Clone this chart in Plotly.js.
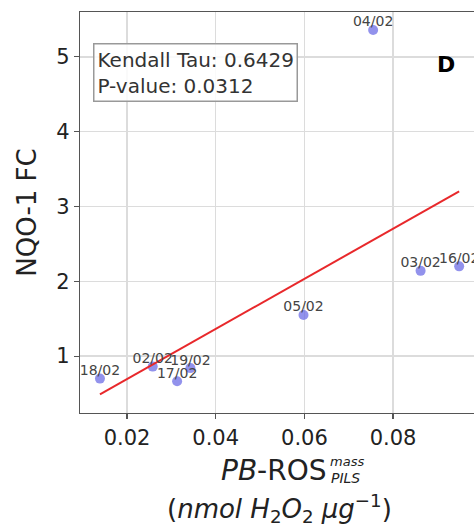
<!DOCTYPE html>
<html>
<head>
<meta charset="utf-8">
<script src="https://cdn.plot.ly/plotly-3.0.1.min.js"></script>
<style>html,body{margin:0;padding:0;overflow:hidden;background:#fff}</style>
</head>
<body>
<div id="chart"></div>
<script>
// Data
const dates = ["18/02", "02/02", "17/02", "19/02", "05/02", "04/02", "03/02", "16/02"];
const pbRos = [0.0139, 0.0258, 0.0313, 0.0343, 0.0598, 0.0755, 0.0862, 0.0949];
const nqo1FC = [0.70, 0.86, 0.665, 0.84, 1.55, 5.36, 2.14, 2.20];
const statsText = ["Kendall Tau: 0.6429", "P-value: 0.0312"];
const panelLabel = "D";

// Least-squares fit line from the data
const n = pbRos.length;
const mx = pbRos.reduce((a, b) => a + b, 0) / n;
const my = nqo1FC.reduce((a, b) => a + b, 0) / n;
let sxy = 0, sxx = 0;
for (let i = 0; i < n; i++) { sxy += (pbRos[i] - mx) * (nqo1FC[i] - my); sxx += (pbRos[i] - mx) ** 2; }
const slope = sxy / sxx, intercept = my - slope * mx;
const xmin = Math.min(...pbRos), xmax = Math.max(...pbRos);
const fitX = [xmin, xmax];
const fitY = fitX.map(x => intercept + slope * x);

const font = "DejaVu Sans, sans-serif";

const traces = [
  {
    x: pbRos, y: nqo1FC, mode: "markers", type: "scatter",
    marker: {color: "rgba(110,110,230,0.75)", size: 10},
    hoverinfo: "skip"
  },
  {
    x: fitX, y: fitY, mode: "lines", type: "scatter",
    line: {color: "#e8282b", width: 2}
  },
  {
    x: pbRos, y: nqo1FC, mode: "text", type: "scatter",
    text: dates, textposition: "top center",
    textfont: {family: font, size: 14, color: "#444"},
    cliponaxis: false
  }
];

const axisCommon = {
  showgrid: true, gridcolor: "#dcdcdc", gridwidth: 1.3,
  showline: true, linecolor: "#555", linewidth: 1.3, mirror: true,
  ticks: "outside", ticklen: 5, tickcolor: "#555", tickwidth: 1.2,
  zeroline: false,
  tickfont: {family: font, size: 21, color: "#222"}
};

const layout = {
  width: 485, height: 530,
  margin: {l: 80, r: 5, t: 12, b: 117},
  paper_bgcolor: "#fff", plot_bgcolor: "#fff",
  showlegend: false,
  font: {family: font},
  xaxis: Object.assign({}, axisCommon, {
    range: [0.0094, 0.0996],
    tickvals: [0.02, 0.04, 0.06, 0.08],
    ticktext: ["0.02", "0.04", "0.06", "0.08"]
  }),
  yaxis: Object.assign({}, axisCommon, {
    range: [0.24, 5.6],
    tickvals: [1, 2, 3, 4, 5],
    title: {text: "NQO-1 FC", font: {family: font, size: 26, color: "#222"}, standoff: 12}
  }),
  annotations: [
    {
      xref: "paper", yref: "paper", x: 0.0325, y: 0.9227,
      xanchor: "left", yanchor: "top", align: "left",
      text: statsText.join("<br>"),
      font: {family: font, size: 20, color: "#333"},
      showarrow: false, bgcolor: "rgba(255,255,255,0.85)",
      bordercolor: "#999", borderwidth: 1.5, borderpad: 3
    },
    {
      xref: "paper", yref: "paper", x: 0.915, y: 0.87,
      xanchor: "center", yanchor: "middle",
      text: "<b>" + panelLabel + "</b>",
      font: {family: font, size: 22, color: "#000"}, showarrow: false
    },
    {
      xref: "paper", yref: "paper", x: 0.62, y: 0, yshift: -57,
      xanchor: "right", yanchor: "middle",
      text: "<i>PB</i>-ROS",
      font: {family: font, size: 28, color: "#222"}, showarrow: false
    },
    {
      xref: "paper", yref: "paper", x: 0.62, y: 0, yshift: -48, xshift: 0,
      xanchor: "left", yanchor: "middle",
      text: "<i>mass</i>",
      font: {family: font, size: 13, color: "#222"}, showarrow: false
    },
    {
      xref: "paper", yref: "paper", x: 0.62, y: 0, yshift: -65, xshift: 1,
      xanchor: "left", yanchor: "middle",
      text: "<i>PILS</i>",
      font: {family: font, size: 14, color: "#222"}, showarrow: false
    },
    {
      xref: "paper", yref: "paper", x: 0.4975, y: 0, yshift: -95,
      xanchor: "center", yanchor: "middle",
      text: "(<i>nmol H</i><sub>2</sub><i>O</i><sub>2</sub> <i>μg</i><sup>−1</sup>)",
      font: {family: font, size: 26, color: "#222"}, showarrow: false
    }
  ]
};

Plotly.newPlot("chart", traces, layout, {displayModeBar: false, staticPlot: true});
</script>
</body>
</html>
